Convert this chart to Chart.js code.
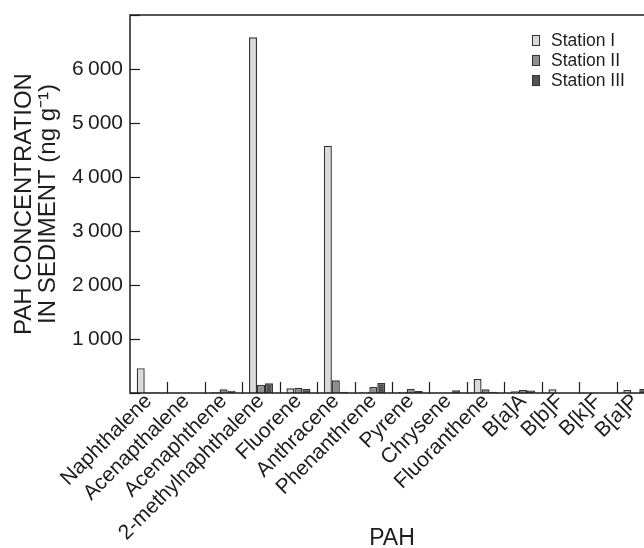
<!DOCTYPE html>
<html>
<head>
<meta charset="utf-8">
<script src="https://cdn.jsdelivr.net/npm/chart.js@4.4.0/dist/chart.umd.min.js"></script>
<style>
html,body{margin:0;padding:0;background:#fff;width:644px;height:548px;overflow:hidden;}
canvas{display:block;}
</style>
</head>
<body>
<canvas id="c" width="680" height="548"></canvas>
<script>
const categories = ['Naphthalene','Acenapthalene','Acenaphthene','2-methylnaphthalene','Fluorene','Anthracene','Phenanthrene','Pyrene','Chrysene','Fluoranthene','B[a]A','B[b]F','B[k]F','B[a]P'];
const stationI   = [460, 0, 13, 6587, 87, 4580, 25, 25, 0, 260, 31, 68, 0, 56];
const stationII  = [8, 0, 69, 149, 99, 235, 112, 75, 0, 68, 56, 0, 0, 0];
const stationIII = [8, 0, 43, 180, 75, 25, 186, 37, 50, 25, 47, 0, 0, 75];
const seriesLabels = ['Station I', 'Station II', 'Station III'];
const seriesColors = ['#dadada', '#8e8e8e', '#525252'];
const yTitle = ['PAH CONCENTRATION', 'IN SEDIMENT (ng g\u207B\u00B9)'];
const xTitle = 'PAH';

const FONT = '"Liberation Sans", Arial, sans-serif';
const INK = '#1f1c1d';

const frame = {
  id: 'frame',
  afterDatasetsDraw(chart) {
    const {ctx, chartArea: a, scales: {x, y}} = chart;
    ctx.save();
    ctx.strokeStyle = INK;
    ctx.lineWidth = 1.5;
    ctx.beginPath();
    ctx.rect(a.left, a.top, a.right - a.left, a.bottom - a.top);
    ctx.stroke();
    ctx.lineWidth = 1.2;
    // inward y ticks
    y.ticks.forEach((t, i) => {
      const py = Math.round(y.getPixelForTick(i)) + 0.5;
      ctx.beginPath();
      ctx.moveTo(a.left, py);
      ctx.lineTo(a.left + 10, py);
      ctx.stroke();
    });
    // category separators
    for (let i = 1; i < x.ticks.length; i++) {
      const px = Math.round((x.getPixelForTick(i - 1) + x.getPixelForTick(i)) / 2) + 0.5;
      ctx.beginPath();
      ctx.moveTo(px, a.bottom);
      ctx.lineTo(px, a.bottom - 11);
      ctx.stroke();
    }
    // legend
    ctx.font = '17.5px ' + FONT;
    ctx.textBaseline = 'middle';
    ctx.textAlign = 'left';
    chart.data.datasets.forEach((ds, i) => {
      const cy = 41 + i * 20;
      ctx.fillStyle = ds.backgroundColor;
      ctx.fillRect(532.5, cy - 5.5, 7, 10);
      ctx.strokeStyle = '#333';
      ctx.lineWidth = 1;
      ctx.strokeRect(532.5, cy - 5.5, 7, 10);
      ctx.fillStyle = INK;
      ctx.fillText(ds.label, 551, cy);
    });
    ctx.restore();
  }
};

new Chart(document.getElementById('c'), {
  type: 'bar',
  data: {
    labels: categories,
    datasets: [stationI, stationII, stationIII].map((d, i) => ({
      label: seriesLabels[i],
      data: d,
      backgroundColor: seriesColors[i],
      borderColor: '#333333',
      borderWidth: 1.4,
      borderSkipped: 'bottom',
      categoryPercentage: 0.64,
      barPercentage: 1.0
    }))
  },
  options: {
    responsive: false,
    animation: false,
    devicePixelRatio: 1,
    layout: {padding: {top: 15, right: 26, left: 0, bottom: 0}},
    plugins: {legend: {display: false}, tooltip: {enabled: false}},
    scales: {
      x: {
        grid: {display: false, drawTicks: false},
        border: {display: false},
        ticks: {
          color: INK,
          font: {family: FONT, size: 21},
          minRotation: 45,
          maxRotation: 45,
          autoSkip: false,
          padding: -4
        },
        title: {display: true, text: xTitle, color: INK, font: {family: FONT, size: 23, lineHeight: 1}, padding: {top: 0, bottom: -2}},
        afterFit(s) { s.height = 155; }
      },
      y: {
        min: 0,
        max: 7000,
        grid: {display: false, drawTicks: false},
        border: {display: false},
        ticks: {
          stepSize: 1000,
          color: INK,
          padding: 7,
          font: {family: FONT, size: 21},
          callback: v => (v === 0 || v === 7000) ? '' : Math.floor(v / 1000) + '\u2009' + '000'
        },
        title: {display: true, text: yTitle, color: INK, font: {family: FONT, size: 24, lineHeight: 1}, padding: {top: 12, bottom: 0}},
        afterFit(s) { s.width = 130; s.paddingTop = 0; s.paddingBottom = 0; }
      }
    }
  },
  plugins: [frame]
});
</script>
</body>
</html>
